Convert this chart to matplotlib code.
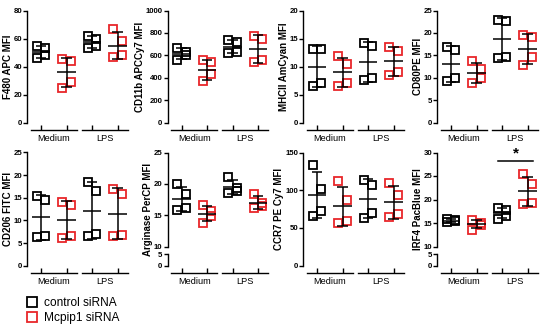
import numpy as np
import matplotlib
matplotlib.use("Agg")
import matplotlib.pyplot as plt
from matplotlib.transforms import ScaledTranslation
from matplotlib.lines import Line2D

plt.rcParams['font.family'] = ['Liberation Sans', 'DejaVu Sans']

groups = ["Medium", "LPS"]
series_names = ["control siRNA", "Mcpip1 siRNA"]

# each panel: [control Medium, Mcpip1 Medium, control LPS, Mcpip1 LPS]
f480 = [[55, 53, 48, 46], [45.5, 44, 29, 25], [62, 60, 55, 53], [67, 58, 48, 47]]
cd11b = [[670, 630, 600, 560], [555, 540, 430, 370], [735, 720, 630, 625], [775, 745, 555, 540]]
mhcii = [[13.2, 13.1, 7.1, 6.5], [11.9, 10.4, 7.0, 6.6], [14.2, 13.7, 7.9, 7.6], [13.5, 12.7, 9.0, 8.5]]
cd80 = [[16.9, 16.2, 9.9, 9.3], [13.8, 12.0, 9.9, 8.8], [22.8, 22.6, 14.7, 14.5], [19.5, 19.0, 14.6, 12.8]]
cd206 = [[15.3, 14.5, 6.6, 6.3], [14.0, 13.4, 6.6, 6.2], [18.4, 16.6, 6.9, 6.6], [16.9, 15.8, 6.8, 6.6]]
arginase = [[19.9, 18.3, 16.2, 15.8], [16.6, 15.7, 14.9, 13.8], [21.1, 19.4, 18.9, 18.6], [18.4, 17.0, 16.4, 16.2]]
ccr7 = [[134, 102, 73, 66], [112, 87, 59, 57], [114, 107, 70, 63], [110, 94, 68, 64]]
irf4 = [[15.8, 15.6, 15.4, 15.2], [15.7, 15.1, 14.6, 13.6], [18.2, 17.7, 16.5, 15.9], [25.4, 23.2, 19.3, 19.0]]

panels = [
    ("F480 APC MFI", f480, [0, 20, 40, 60, 80], None),
    ("CD11b APCCy7 MFI", cd11b, [0, 200, 400, 600, 800, 1000], None),
    ("MHCII AmCyan MFI", mhcii, [0, 5, 10, 15, 20], None),
    ("CD80PE MFI", cd80, [0, 5, 10, 15, 20, 25], None),
    ("CD206 FITC MFI", cd206, [0, 5, 10, 15, 20, 25], None),
    ("Arginase PerCP MFI", arginase, [10, 15, 20, 25], [0, 5]),
    ("CCR7 PE Cy7 MFI", ccr7, [0, 50, 100, 150], None),
    ("IRF4 PacBlue MFI", irf4, [10, 15, 20, 25, 30], [0, 5]),
]
sig_star = "*"

colors = ["black", "#e8262a"]
JITTER = [-0.17, 0.17, 0.17, -0.17]
MS, MEW, LW = 5.9, 1.3, 1.1
W, H = 550, 330
col_x = [27, 167.5, 303, 437]
row_top = [10.5, 152.5]
row_bot = [122.7, 265.7]
XL = (0.45, 4.6)
ax_w = (XL[1] - XL[0]) * 25.5

fig = plt.figure(figsize=(5.5, 3.3), dpi=100)


def frac_box(left, top, bottom):
    return [left / W, 1 - bottom / H, ax_w / W, (bottom - top) / H]


def style_y(ax):
    for s in ("top", "right", "bottom"):
        ax.spines[s].set_visible(False)
    ax.spines["left"].set_linewidth(1.0)
    ax.tick_params(axis="y", length=2.8, width=1.0, labelsize=5.6, pad=0.8)
    for t in ax.get_yticklabels():
        t.set_fontweight("bold")
    ax.set_xlim(*XL)


def style_x(ax):
    ax.spines["bottom"].set_position(("outward", 5.0))
    ax.spines["bottom"].set_visible(False)
    ax.set_xticks([1, 2, 3, 4], minor=True)
    ax.set_xticks([1.5, 3.5])
    ax.set_xticklabels(groups, fontsize=6.6)
    ax.tick_params(axis="x", which="minor", direction="in", length=3.3, width=1.0)
    ax.tick_params(axis="x", which="major", length=0, pad=3)
    tr = ax.get_xaxis_transform() + ScaledTranslation(0, -0.07, fig.dpi_scale_trans)
    for c in (1.5, 3.5):
        ax.plot([c - 0.9, c + 0.9], [0, 0], color="black", lw=1.0,
                transform=tr, clip_on=False)


def draw_data(ax, data):
    for i, vals in enumerate(data):
        x = i + 1
        v = np.array(vals, dtype=float)
        ax.plot(x + np.array(JITTER), v, "s", mfc="none", mec=colors[i % 2],
                ms=MS, mew=MEW, clip_on=False, zorder=3)
        m, sd = v.mean(), v.std(ddof=1)
        kw = dict(color="black", lw=LW, zorder=4, solid_capstyle="butt")
        ax.plot([x - 0.36, x + 0.36], [m, m], **kw)
        ax.plot([x, x], [m - sd, m + sd], **kw)
        for y in (m - sd, m + sd):
            ax.plot([x - 0.2, x + 0.2], [y, y], **kw)


for k, (label, data, yticks, low_ticks) in enumerate(panels):
    r, c = divmod(k, 4)
    if low_ticks is None:
        ax = fig.add_axes(frac_box(col_x[c], row_top[r], row_bot[r]))
        ax.set_ylim(yticks[0], yticks[-1])
        ax.set_yticks(yticks)
        style_y(ax)
        style_x(ax)
        draw_data(ax, data)
        ax.set_ylabel(label, fontsize=7.0, fontweight="bold", labelpad=0.5)
    else:
        ax = fig.add_axes(frac_box(col_x[c], row_top[r], 246.5))
        ax.set_ylim(yticks[0], yticks[-1])
        ax.set_yticks(yticks)
        style_y(ax)
        ax.set_xticks([])
        draw_data(ax, data)
        lo = fig.add_axes(frac_box(col_x[c], 254.3, row_bot[r]))
        lo.set_ylim(low_ticks[0], low_ticks[-1])
        lo.set_yticks(low_ticks)
        style_y(lo)
        style_x(lo)
        ax.set_ylabel(label, fontsize=7.0, fontweight="bold", labelpad=0.5)
        ax.yaxis.label.set_y((246.5 - (row_top[r] + row_bot[r]) / 2) / (246.5 - row_top[r]))
    if label.startswith("IRF4"):
        ax.plot([2.85, 4.2], [28.1, 28.1], color="black", lw=1.1, clip_on=False)
        ax.text(3.55, 28.2, sig_star, ha="center", va="bottom", fontsize=11,
                fontweight="bold", clip_on=False)

handles = [Line2D([], [], marker="s", ls="none", mfc="none", mec=col, ms=6.5, mew=1.3)
           for col in colors]
fig.legend(handles, series_names, loc="upper left", bbox_to_anchor=(25 / W, 1 - 297.5 / H),
           frameon=False, fontsize=8.6, handlelength=1.2, handletextpad=0.35,
           labelspacing=0.2, borderpad=0, borderaxespad=0)

fig.savefig("out.png", dpi=100)
